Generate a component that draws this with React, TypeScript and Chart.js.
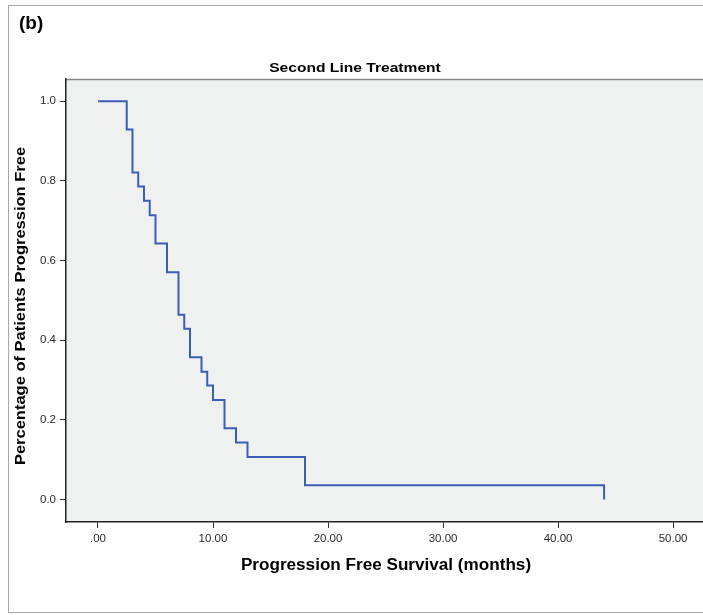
import React, { useEffect, useRef } from "react";
import { Chart, registerables } from "chart.js";

Chart.register(...registerables);

const chartTitle = "Second Line Treatment";
const panelLabel = "(b)";
const xAxisTitle = "Progression Free Survival (months)";
const yAxisTitle = "Percentage of Patients Progression Free";

const times = [0, 2.5, 3, 3.5, 4, 4.5, 5, 6, 7, 7.5, 8, 9, 9.5, 10, 11, 12, 13, 18, 44];
const survival = [1.0, 0.929, 0.821, 0.786, 0.75, 0.714, 0.643, 0.571, 0.464, 0.429, 0.357, 0.321, 0.286, 0.25, 0.179, 0.143, 0.107, 0.036, 0.0];

const xTicks = [0, 10, 20, 30, 40, 50];
const yTicks = [0, 0.2, 0.4, 0.6, 0.8, 1.0];

const W = 703;
const H = 615;
const FONT = "'Liberation Sans', Arial, sans-serif";

function stretchedText(ctx: any, text: string, x: number, y: number, sx: number) {
  ctx.save();
  ctx.translate(x, y);
  ctx.scale(sx, 1);
  ctx.fillText(text, 0, 0);
  ctx.restore();
}

const decorPlugin = {
  id: "decor",
  beforeDraw(chart: any) {
    const { ctx, chartArea } = chart;
    ctx.save();
    ctx.fillStyle = "#ffffff";
    ctx.fillRect(0, 0, W, H);
    ctx.strokeStyle = "#a8a8a8";
    ctx.lineWidth = 1;
    ctx.strokeRect(8.5, 5.5, W + 10, 607);
    ctx.fillStyle = "#eff1f1";
    ctx.fillRect(chartArea.left, chartArea.top, chartArea.right - chartArea.left, chartArea.bottom - chartArea.top);
    ctx.strokeStyle = "#888888";
    ctx.lineWidth = 1.5;
    ctx.beginPath();
    ctx.moveTo(chartArea.left, chartArea.top + 0.5);
    ctx.lineTo(chartArea.right, chartArea.top + 0.5);
    ctx.stroke();
    ctx.restore();
  },
  afterDraw(chart: any) {
    const { ctx } = chart;
    ctx.save();
    ctx.fillStyle = "#000000";
    ctx.textBaseline = "middle";
    ctx.font = `bold 19px ${FONT}`;
    ctx.textAlign = "left";
    ctx.fillText(panelLabel, 19, 24);
    ctx.textAlign = "center";
    ctx.font = `bold 13px ${FONT}`;
    stretchedText(ctx, chartTitle, 355, 68, 1.2);
    ctx.font = `bold 16px ${FONT}`;
    stretchedText(ctx, xAxisTitle, 386, 566, 1.07);
    ctx.translate(21, 306);
    ctx.rotate(-Math.PI / 2);
    ctx.font = `bold 15px ${FONT}`;
    stretchedText(ctx, yAxisTitle, 0, 0, 1.1);
    ctx.restore();
  },
};

export default function App() {
  const ref = useRef<HTMLCanvasElement | null>(null);

  useEffect(() => {
    if (!ref.current) return;
    const chart = new Chart(ref.current, {
      type: "line",
      data: {
        datasets: [
          {
            data: times.map((t, i) => ({ x: t, y: survival[i] })),
            stepped: true,
            borderColor: "#3a5eb8",
            borderWidth: 2,
            pointRadius: 0,
            fill: false,
          },
        ],
      },
      options: {
        responsive: false,
        animation: false,
        devicePixelRatio: 1,
        layout: { padding: { left: 0, top: 79, right: 0, bottom: 0 } },
        plugins: {
          legend: { display: false },
          tooltip: { enabled: false },
          title: { display: false },
        },
        scales: {
          x: {
            type: "linear",
            min: -2.78,
            max: 52.6,
            afterFit: (s: any) => {
              s.height = 93;
            },
            afterBuildTicks: (s: any) => {
              s.ticks = xTicks.map((v) => ({ value: v }));
            },
            grid: { display: true, drawOnChartArea: false, drawTicks: true, tickLength: 6, color: "#333333", lineWidth: 1 },
            border: { display: true, color: "#222222", width: 1.5 },
            ticks: {
              color: "#2a2a2a",
              font: { family: FONT, size: 11.5 },
              padding: 4,
              maxRotation: 0,
              autoSkip: false,
              callback: (v: any) => (Number(v) === 0 ? ".00" : Number(v).toFixed(2)),
            },
          },
          y: {
            type: "linear",
            min: -0.0565,
            max: 1.056,
            afterFit: (s: any) => {
              s.width = 66;
            },
            afterBuildTicks: (s: any) => {
              s.ticks = yTicks.map((v) => ({ value: v }));
            },
            grid: { display: true, drawOnChartArea: false, drawTicks: true, tickLength: 6, color: "#333333", lineWidth: 1 },
            border: { display: true, color: "#222222", width: 1.5 },
            ticks: {
              color: "#2a2a2a",
              font: { family: FONT, size: 11.5 },
              padding: 4,
              autoSkip: false,
              callback: (v: any) => Number(v).toFixed(1),
            },
          },
        },
      },
      plugins: [decorPlugin],
    });
    return () => chart.destroy();
  }, []);

  return (
    <div style={{ position: "fixed", left: 0, top: 0, width: W, height: H, overflow: "hidden" }}>
      <canvas ref={ref} width={W} height={H} style={{ display: "block", width: W, height: H }} />
    </div>
  );
}
